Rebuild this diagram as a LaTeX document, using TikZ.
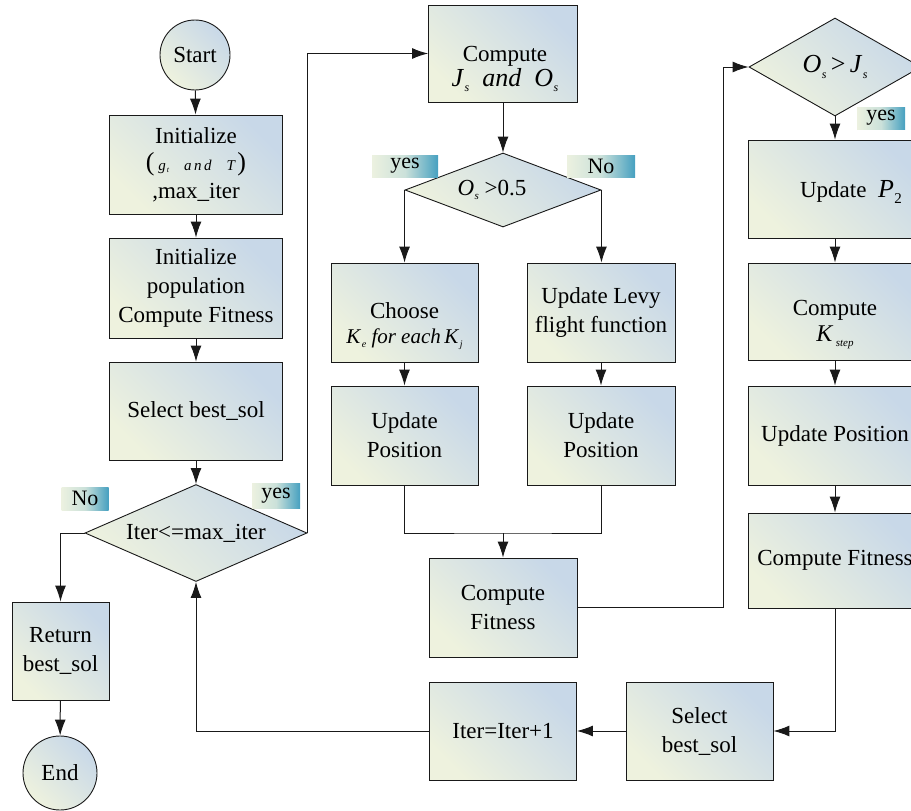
\documentclass[tikz,border=0pt]{standalone}
\usepackage{fontspec}
\setmainfont{Liberation Serif}
\usetikzlibrary{arrows.meta,shapes.geometric}
\definecolor{fa}{RGB}{238,242,222}
\definecolor{fb}{RGB}{200,216,232}
\definecolor{la}{RGB}{236,241,224}
\definecolor{lb}{RGB}{70,160,192}
\definecolor{lnc}{RGB}{25,25,25}
\newcommand\mysub[3][11]{\textit{#2}\kern0.5pt\raisebox{-0.45ex}{\fontsize{#1}{#1}\selectfont\textit{#3}}}
\begin{document}
\begin{tikzpicture}[x=1pt,y=-1pt,
  every node/.style={font=\fontsize{23}{29}\selectfont},
  grad/.style={top color=fb,bottom color=fa,shading angle=-45},
  box/.style={draw=lnc,line width=0.9pt,grad,rectangle,align=center,inner sep=2pt},
  circ/.style={draw=lnc,line width=0.9pt,grad,circle,inner sep=0pt},
  dia/.style={draw=lnc,line width=0.9pt,grad,diamond,inner sep=0pt,aspect=2.2},
  lbl/.style={left color=la,right color=lb,middle color=la!80!lb,inner sep=0pt,font=\fontsize{22}{22}\selectfont},
  conn/.style={draw=lnc,line width=1pt},
  arr/.style={conn,-{Latex[length=16pt,width=11pt]}}
]
\useasboundingbox (0,0) rectangle (911,811);
\clip (0,0) rectangle (911,811);

% left column
\node[circ,minimum size=70pt] (start) at (195,55) {Start};
\node[box,minimum width=173pt,minimum height=99pt] (init) at (196,164.5) {Initialize\\[-2pt]
  {\fontsize{26}{26}\selectfont(}\,{\fontsize{15}{15}\selectfont\itshape g\kern1pt\raisebox{-0.3ex}{\fontsize{8}{8}\selectfont t}\quad a\,n\,d\quad T\,}{\fontsize{26}{26}\selectfont)}\\[-1pt]
  ,max\_iter};
\node[box,minimum width=173pt,minimum height=100pt] (pop) at (196,288) {Initialize\\population\\Compute Fitness};
\node[box,minimum width=173pt,minimum height=98pt] (sel) at (196,411) {Select best\_sol};
\node[dia,minimum width=222pt,minimum height=97pt] (iter) at (196,533) {Iter<=max\_iter};
\node[box,minimum width=97pt,minimum height=98pt] (ret) at (60.5,651) {Return\\best\_sol};
\node[circ,minimum size=74pt] (end) at (60,773) {End};
\node[lbl,minimum width=47pt,minimum height=23pt] (noL) at (85,498.5) {No};
\node[lbl,minimum width=48pt,minimum height=25pt] (yesL) at (276,495.5) {yes};

% middle column
\node[box,minimum width=149pt,minimum height=97pt] (cj) at (503,53.5) {};
\node[align=center,inner sep=0pt] (cjt) at (505,69) {Compute\\[-4pt]{\fontsize{26}{26}\selectfont\mysub[12]{J}{s}\ \ \textit{and}\ \ \mysub[12]{O}{s}}};
\node[dia,minimum width=196pt,minimum height=74pt] (d2) at (503,190) {};
\node[inner sep=0pt] (d2t) at (492,190) {\mysub{O}{s} >0.5};
\node[lbl,minimum width=66pt,minimum height=22pt] (yes2) at (405,166) {yes};
\node[lbl,minimum width=68pt,minimum height=22pt] (no2) at (601,166) {No};
\node[box,minimum width=147pt,minimum height=99pt] (choose) at (404.5,312.5) {};
\node[align=center,inner sep=0pt] (chooset) at (404.5,326) {Choose\\[-4pt]{\fontsize{21}{21}\selectfont\mysub[10]{K}{e}\ \textit{for each}\,\mysub[10]{K}{j}}};
\node[box,minimum width=148pt,minimum height=99pt] (levy) at (601,312.5) {Update Levy\\flight function};
\node[box,minimum width=147pt,minimum height=99pt] (up1) at (404.5,435.5) {Update\\Position};
\node[box,minimum width=148pt,minimum height=99pt] (up2) at (601,435.5) {Update\\Position};
\node[box,minimum width=148pt,minimum height=99pt] (cf) at (503,607.5) {Compute\\Fitness};

% right column
\node[dia,minimum width=172pt,minimum height=98pt] (d3) at (835,67) {};
\node[inner sep=0pt] (d3t) at (835,67) {\fontsize{26}{26}\selectfont\mysub[12]{O}{s}\,>\,\mysub[12]{J}{s}};
\node[lbl,minimum width=48pt,minimum height=22pt] (yes3) at (881,118) {yes};
\node[box,minimum width=174pt,minimum height=98pt] (p2) at (835,189) {};
\node[inner sep=0pt] (p2t) at (851,192) {Update\ \ {\fontsize{26}{26}\selectfont\textit{P}\kern0.5pt\raisebox{-0.45ex}{\fontsize{15}{15}\selectfont 2}}};
\node[box,minimum width=174pt,minimum height=97pt] (ks) at (835,311.5) {};
\node[align=center,inner sep=0pt] (kst) at (835,325) {Compute\\[-3pt]{\fontsize{24}{24}\selectfont\mysub[11]{K}{\,step}}};
\node[box,minimum width=174pt,minimum height=99pt] (up3) at (835,435.5) {Update Position};
\node[box,minimum width=174pt,minimum height=95pt] (cf2) at (835,560.5) {Compute Fitness};
\node[box,minimum width=147pt,minimum height=98pt] (sel2) at (699.5,731) {Select\\best\_sol};
\node[box,minimum width=147pt,minimum height=98pt] (it1) at (503,731) {Iter=Iter+1};

% connectors
\draw[arr] (start) -- (init);
\draw[arr] (init) -- (pop);
\draw[arr] (pop) -- (sel);
\draw[arr] (sel) -- (iter);
\draw[arr] (iter.west) -| (ret.north);
\draw[arr] (ret) -- (end);
\draw[arr] (iter.east) |- (cj.west);
\draw[arr] (cj) -- (d2);
\draw[arr] (d2.west) -- (d2.west |- choose.north);
\draw[arr] (d2.east) -- (d2.east |- levy.north);
\draw[arr] (choose) -- (up1);
\draw[arr] (levy) -- (up2);
\coordinate (m) at (503,533);
\draw[conn] (up1.south) |- (m) -| (up2.south);
\draw[arr] (m) -- (cf);
\coordinate (jr) at (723,607.5);
\draw[arr] (cf.east) -- (jr) |- (d3.west);
\draw[arr] (d3) -- (p2);
\draw[arr] (p2) -- (ks);
\draw[arr] (ks) -- (up3);
\draw[arr] (up3) -- (cf2);
\draw[arr] (cf2.south) |- (sel2.east);
\draw[arr] (sel2) -- (it1);
\draw[arr] (it1.west) -| (iter.south);
\end{tikzpicture}
\end{document}
